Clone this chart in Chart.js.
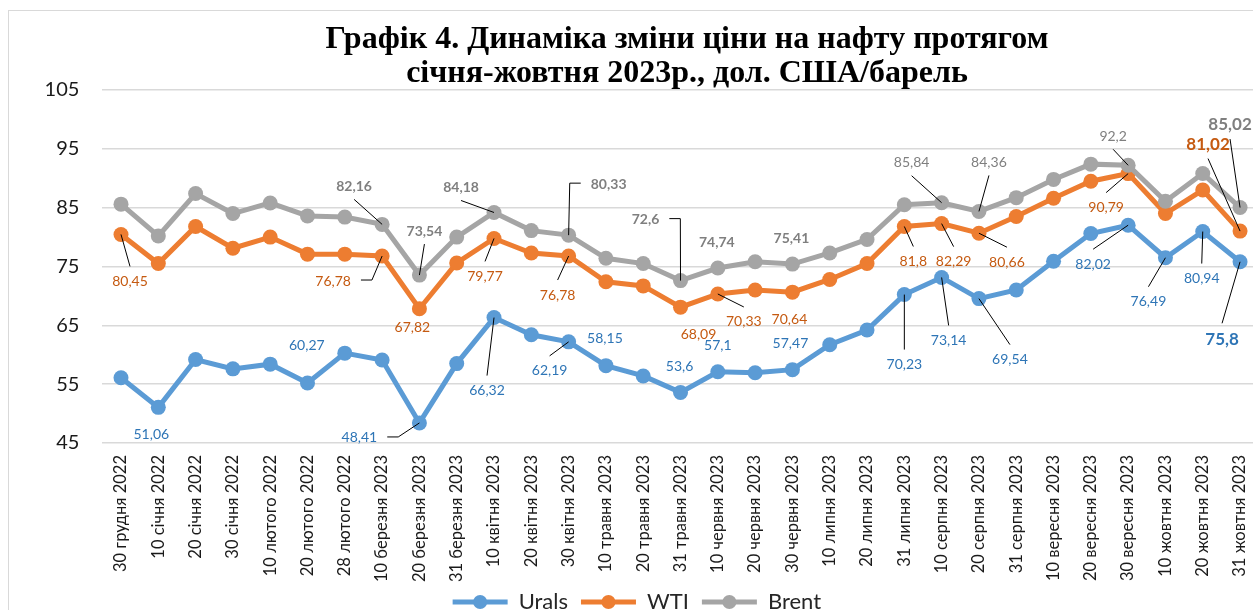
<!DOCTYPE html>
<html><head><meta charset="utf-8">
<script src="https://cdn.jsdelivr.net/npm/chart.js@4/dist/chart.umd.min.js"></script>
<style>
html,body{margin:0;padding:0;background:#fff;overflow:hidden;width:1253px;height:610px;}
#frame{position:absolute;left:8px;top:10px;width:1300px;height:700px;border:1px solid #d9d9d9;box-sizing:border-box;pointer-events:none;}
#wrap{position:absolute;left:0;top:0;width:1294px;height:623px;}
</style></head><body>
<div id="frame"></div>
<div id="wrap"><canvas id="c" width="1294" height="623"></canvas></div>
<script>
const categories = ['30 грудня 2022','10 січня 2022','20 січня 2022','30 січня 2022','10 лютого 2022','20 лютого 2022','28 лютого 2022','10 березня 2023','20 березня 2023','31 березня 2023','10 квітня 2023','20 квітня 2023','30 квітня 2023','10 травня 2023','20 травня 2023','31 травня 2023','10 червня 2023','20 червня 2023','30 червня 2023','10 липня 2023','20 липня 2023','31 липня 2023','10 серпня 2023','20 серпня 2023','31 серпня 2023','10 вересня 2023','20 вересня 2023','30 вересня 2023','10 жовтня 2023','20 жовтня 2023','31 жовтня 2023'];
const urals = [56.1, 51.06, 59.2, 57.6, 58.4, 55.2, 60.27, 59.1, 48.41, 58.5, 66.32, 63.4, 62.19, 58.15, 56.4, 53.6, 57.1, 56.95, 57.47, 61.7, 64.2, 70.23, 73.14, 69.54, 71.0, 75.9, 80.6, 82.02, 76.49, 80.94, 75.8];
const wti = [80.45, 75.5, 81.8, 78.1, 80.0, 77.1, 77.1, 76.78, 67.82, 75.6, 79.77, 77.3, 76.78, 72.4, 71.7, 68.09, 70.33, 71.0, 70.64, 72.8, 75.5, 81.8, 82.29, 80.66, 83.5, 86.6, 89.5, 90.79, 84.0, 88.0, 81.02];
const brent = [85.6, 80.2, 87.4, 84.0, 85.8, 83.6, 83.4, 82.16, 73.54, 80.0, 84.18, 81.1, 80.33, 76.4, 75.5, 72.6, 74.74, 75.8, 75.41, 77.3, 79.6, 85.5, 85.84, 84.36, 86.7, 89.8, 92.4, 92.2, 86.1, 90.8, 85.02];
const seriesNames = ['Urals','WTI','Brent'];
const yMin = 45, yMax = 105, yStep = 10;
const titleLines = ['Графік 4. Динаміка зміни ціни на нафту протягом','січня-жовтня 2023р., дол. США/барель'];

// label layout: [series, point, dx, dy, leader, bold, fontSize]
const pointLabels = [
  [0,1,-7,26,'none',0,14],[0,6,-38,-9,'none',0,14],[0,8,-60,14,'elbow',0,14],[0,10,-7,72,'line',0,14],
  [0,12,-19,28,'line',0,14],[0,13,-1,-28,'none',0,14],[0,15,-1,-27,'none',0,14],[0,16,0,-27,'none',0,14],
  [0,18,-2,-27,'none',0,14],[0,21,0,69,'line',0,14],[0,22,7,62,'line',0,14],[0,23,31,60,'line',0,14],
  [0,27,-35,38,'line',0,14],[0,28,-17,43,'line',0,14],[0,29,-1,46,'line',0,14],[0,30,-18,77,'line',1,17],
  [1,0,9,46,'line',0,14],[1,7,-49,24,'elbow',0,14],[1,8,-7,18,'none',0,14],[1,10,-9,37,'line',0,14],
  [1,12,-11,38,'line',0,14],[1,15,18,26,'none',0,14],[1,16,26,27,'line',0,14],[1,18,-3,26,'none',0,14],
  [1,21,9,34,'line',0,14],[1,22,12,37,'line',0,14],[1,23,28,28,'line',0,14],[1,27,-22,33,'line',0,14],
  [1,30,-32,-88,'line',1,17],
  [2,7,-28,-39,'line',1,14],[2,8,5,-45,'line',1,14],[2,10,-33,-26,'line',1,14],[2,12,40,-52,'elbow',1,14],
  [2,15,-35,-62,'elbow',1,14],[2,16,-1,-27,'none',1,14],[2,18,-1,-27,'none',1,14],[2,22,-30,-41,'line',0,14],
  [2,23,10,-50,'line',0,14],[2,27,-15,-30,'line',0,14],[2,30,-10,-84,'line',1,17]
];
const lineColors = ['#5B9BD5','#ED7D31','#A5A5A5'];
const labelColors = ['#2E75B6','#C55A11','#7F7F7F'];
const FONT = 'Lato, "Noto Sans", sans-serif';
const LEG_BOX = 55;
const fmt = v => String(v).replace('.', ',');

const labelPlugin = {
  id: 'pointLabels',
  afterDatasetsDraw(chart) {
    const ctx = chart.ctx;
    ctx.save();
    pointLabels.forEach(([s, i, dx, dy, leader, bold, size]) => {
      const el = chart.getDatasetMeta(s).data[i];
      const px = el.x, py = el.y, cx = px + dx, cy = py + dy;
      const txt = fmt(chart.data.datasets[s].data[i]);
      ctx.font = (bold ? 'bold ' : '') + size + 'px ' + FONT;
      const w = ctx.measureText(txt).width;
      ctx.strokeStyle = '#000'; ctx.lineWidth = 1;
      if (leader === 'line') {
        const sy = cy + (py > cy ? 1 : -1) * (size / 2 + 7);
        ctx.beginPath(); ctx.moveTo(cx, sy); ctx.lineTo(px, py); ctx.stroke();
      } else if (leader === 'elbow') {
        const dir = px > cx ? 1 : -1;
        const sx = cx + dir * (w / 2 + 10), ex = sx + dir * 11;
        ctx.beginPath(); ctx.moveTo(sx, cy); ctx.lineTo(ex, cy); ctx.lineTo(px, py); ctx.stroke();
      }
      ctx.fillStyle = labelColors[s];
      ctx.textAlign = 'center'; ctx.textBaseline = 'middle';
      ctx.fillText(txt, cx, cy + 1);
    });
    ctx.restore();
  },
  afterDraw(chart) {
    const ctx = chart.ctx, lg = chart.legend;
    ctx.save();
    lg.legendHitBoxes.forEach((hb, k) => {
      const ds = lg.legendItems[k].datasetIndex;
      ctx.fillStyle = lineColors[ds];
      ctx.beginPath(); ctx.arc(hb.left + LEG_BOX / 2, hb.top + hb.height / 2, 7, 0, Math.PI * 2); ctx.fill();
    });
    ctx.fillStyle = '#000';
    ctx.font = 'bold 32px "Liberation Serif", "Times New Roman", serif';
    ctx.textAlign = 'center'; ctx.textBaseline = 'alphabetic';
    ctx.fillText(titleLines[0], 687, 48);
    ctx.fillText(titleLines[1], 687, 82);
    ctx.restore();
  }
};

new Chart(document.getElementById('c'), {
  type: 'line',
  data: {
    labels: categories,
    datasets: [urals, wti, brent].map((d, k) => ({
      label: seriesNames[k], data: d, borderColor: lineColors[k], backgroundColor: lineColors[k],
      pointBackgroundColor: lineColors[k], pointBorderWidth: 0, pointRadius: 7.5, borderWidth: 5,
      tension: 0, order: 2 - k
    }))
  },
  options: {
    responsive: false, animation: false,
    layout: { padding: { top: 90, left: 15, right: 35.3, bottom: 0 } },
    plugins: {
      title: { display: false }, tooltip: { enabled: false },
      legend: {
        position: 'bottom',
        labels: {
          boxWidth: LEG_BOX, boxHeight: 5, padding: 13, color: '#262626',
          font: { family: FONT, size: 22 },
          generateLabels(chart) {
            const items = Chart.defaults.plugins.legend.labels.generateLabels(chart);
            items.forEach(it => { it.lineWidth = 0; it.fillStyle = lineColors[it.datasetIndex]; it.strokeStyle = lineColors[it.datasetIndex]; });
            return items.sort((a, b) => a.datasetIndex - b.datasetIndex);
          }
        }
      }
    },
    scales: {
      x: {
        offset: true,
        grid: { display: false, drawTicks: false }, border: { display: false },
        ticks: { autoSkip: false, maxRotation: 90, minRotation: 90, padding: 12, color: '#1a1a1a', font: { family: FONT, size: 16.5 } },
        afterFit(s) { s.height = 135; s._computeLabelArea = () => undefined; }
      },
      y: {
        min: yMin, max: yMax,
        grid: { color: '#d9d9d9', lineWidth: 1.6, drawTicks: false }, border: { display: false },
        ticks: { stepSize: yStep, padding: 23, color: '#1a1a1a', font: { family: FONT, size: 20 } },
        afterFit(s) { s.width = 87.35; }
      }
    }
  },
  plugins: [labelPlugin]
});
</script>
</body></html>
